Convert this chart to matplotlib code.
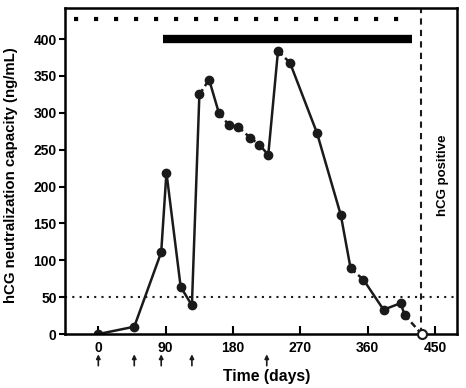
import matplotlib
matplotlib.use("Agg")
import matplotlib.pyplot as plt

plt.rcParams['font.family'] = ['Liberation Sans', 'DejaVu Sans']
plt.rcParams['font.weight'] = 'bold'

# neutralization capacity over time
days = [0, 48, 84, 91, 110, 125, 135, 148, 161, 174, 187, 203, 215, 227,
        240, 256, 292, 324, 337, 354, 381, 404, 409]
capacity = [0, 10, 111, 219, 64, 39, 325, 345, 300, 284, 281, 266, 257, 243,
            384, 368, 273, 161, 89, 74, 33, 42, 26]
# segment styles between consecutive points
seg_dashed = [False, False, False, False, False, False, True, False, True, True,
              True, True, False, False, True, False, False, False, True, False,
              False, False]

hcg_day = 432
hcg_line_day = 431
injection_days = [0, 48, 84, 125, 225]
bar_start, bar_end = 86, 419
dot_start, dot_end = -32, 413
cutoff = 50

xticks = [0, 90, 180, 270, 360, 450]
yticks = [0, 50, 100, 150, 200, 250, 300, 350, 400]

fig = plt.figure(figsize=(4.66, 3.88), dpi=100)
ax = fig.add_axes([0.1395, 0.139, 0.841, 0.84])

for i in range(len(days) - 1):
    ls = (0, (2.5, 1.5)) if seg_dashed[i] else '-'
    ax.plot(days[i:i + 2], capacity[i:i + 2], color='#1a1a1a', lw=1.8, ls=ls)
ax.plot(days, capacity, 'o', color='#1a1a1a', ms=6)
ax.plot([days[-1], hcg_day], [capacity[-1], 0], color='#1a1a1a', lw=1.8,
        ls=(0, (2.5, 1.5)))
ax.plot([hcg_day], [0], 'o', mfc='white', mec='#1a1a1a', mew=1.5, ms=6.5,
        clip_on=False, zorder=5)

ax.axhline(cutoff, color='#1a1a1a', lw=1.5, ls=(0, (1, 2.5)))
ax.axvline(hcg_line_day, color='#1a1a1a', lw=1.5, ls=(0, (3, 2.5)))
ax.plot([bar_start, bar_end], [400, 400], color='black', lw=6, solid_capstyle='butt')
ax.plot([dot_start, dot_end], [427, 427], color='black', lw=3,
        ls=(0, (1, 3.8)), dash_capstyle='butt')

ax.text(461, 215, 'hCG positive', rotation=90, ha='center', va='center',
        fontsize=9.5, fontweight='bold')

for d in injection_days:
    ax.annotate('', xy=(d, -0.062), xytext=(d, -0.097),
                xycoords=ax.get_xaxis_transform(),
                textcoords=ax.get_xaxis_transform(),
                arrowprops=dict(arrowstyle='-|>', color='#1a1a1a', lw=1.2,
                                mutation_scale=6, shrinkA=0, shrinkB=0),
                annotation_clip=False)

ax.set_xlim(-44.5, 479)
ax.set_ylim(0, 442)
ax.set_xticks(xticks)
ax.set_yticks(yticks)
ax.tick_params(axis='x', direction='in', length=6, width=1.5, labelsize=10, pad=5)
ax.tick_params(axis='y', direction='out', length=4, width=1.5, labelsize=10, pad=2)
for s in ax.spines.values():
    s.set_linewidth(1.8)

ax.set_xlabel('Time (days)', fontsize=11.3, fontweight='bold')
ax.xaxis.set_label_coords(0.514, -0.107)
ax.set_ylabel('hCG neutralization capacity (ng/mL)', fontsize=10.8, fontweight='bold')
ax.yaxis.set_label_coords(-0.12, 0.488)

fig.savefig('out.png', dpi=100)
